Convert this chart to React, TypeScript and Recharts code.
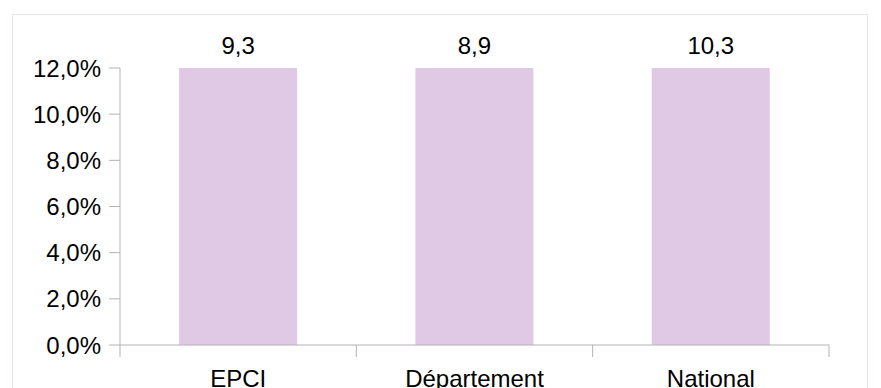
import { Bar, BarChart, LabelList, XAxis, YAxis } from 'recharts';

const categories = ['EPCI', 'Département', 'National'];
const values = [9.3, 8.9, 10.3];
const yTicks = [0, 0.02, 0.04, 0.06, 0.08, 0.1, 0.12];

const yMax = yTicks[yTicks.length - 1];
const data = categories.map((name, i) => ({ name, value: values[i] }));

const axisColor = '#b3b3b3';
const font = '"Liberation Sans", Arial, sans-serif';

const fmtPct = (v: number) => (v * 100).toFixed(1).replace('.', ',') + '%';
const fmtNum = (v: number) => String(v).replace('.', ',');

// category labels sit in the middle, tick marks go on the band edges
function CategoryTick(props: any) {
  const { x, y, payload, index } = props;
  const half = payload?.offset ?? 118;
  return (
    <g>
      <line x1={x - half} x2={x - half} y1={y} y2={y + 12} stroke={axisColor} />
      {index === categories.length - 1 && (
        <line x1={x + half} x2={x + half} y1={y} y2={y + 12} stroke={axisColor} />
      )}
      <text x={x} y={y + 25} dy="0.71em" textAnchor="middle" fontSize={24} fontFamily={font} fill="#000">
        {payload.value}
      </text>
    </g>
  );
}

export default function App() {
  return (
    <div style={{ position: 'fixed', left: 0, top: 0, width: 881, height: 388, overflow: 'hidden', background: '#fff' }}>
      <div
        style={{
          position: 'absolute',
          left: 12,
          top: 14,
          width: 856,
          height: 420,
          border: '1px solid #ecdfe5',
          boxSizing: 'border-box',
        }}
      />
      <div style={{ position: 'absolute', left: 0, top: 0 }}>
        <BarChart width={881} height={388} data={data} margin={{ top: 68, right: 52, bottom: 0, left: 0 }} barCategoryGap="25%">
          <XAxis
            dataKey="name"
            height={43}
            tickLine={false}
            tickSize={0}
            tickMargin={0}
            stroke={axisColor}
            interval={0}
            tick={<CategoryTick />}
          />
          <YAxis
            width={120}
            domain={[0, yMax]}
            ticks={yTicks}
            tickFormatter={fmtPct}
            stroke={axisColor}
            tickSize={11}
            tickMargin={8}
            tick={{ fontSize: 24, fontFamily: font, fill: '#000' }}
          />
          <Bar dataKey={(d: any) => Math.min(d.value, yMax)} fill="#dfc9e4" isAnimationActive={false}>
            <LabelList
              dataKey="value"
              position="top"
              offset={14}
              formatter={(v: any) => fmtNum(v)}
              style={{ fontSize: 24, fontFamily: font, fill: '#000' }}
            />
          </Bar>
        </BarChart>
      </div>
    </div>
  );
}
